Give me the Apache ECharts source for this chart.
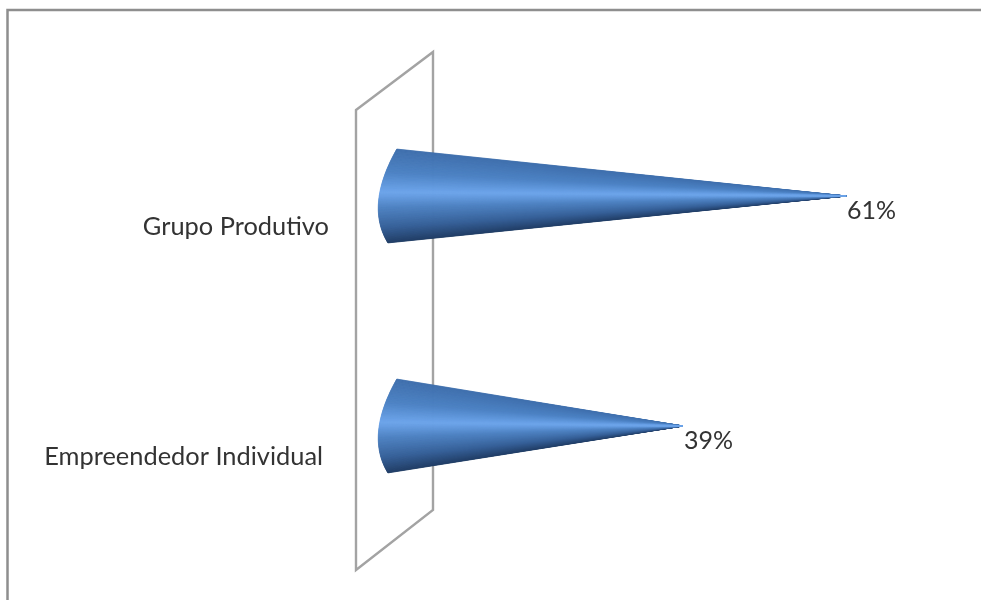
<!DOCTYPE html>
<html>
<head>
<meta charset="utf-8">
<style>html,body{margin:0;padding:0;background:#fff}#chart{width:981px;height:600px}</style>
<script src="https://cdn.jsdelivr.net/npm/echarts@6/dist/echarts.min.js"></script>
</head>
<body>
<div id="chart"></div>
<script>
const categories = ['Empreendedor Individual', 'Grupo Produtivo'];
const shares = [39, 61];

// Shading across the cone, from its upper edge to its lower edge
const shadeStops = [
  [0.00, [62, 110, 172]],
  [0.22, [76, 130, 196]],
  [0.41, [108, 164, 234]],
  [0.57, [78, 130, 194]],
  [0.80, [54, 96, 152]],
  [1.00, [32, 60, 100]]
];

function shadeAt(t) {
  for (let i = 1; i < shadeStops.length; i++) {
    const [t1, c1] = shadeStops[i];
    const [t0, c0] = shadeStops[i - 1];
    if (t <= t1) {
      const k = (t - t0) / (t1 - t0);
      const c = c0.map((v, j) => Math.round(v + (c1[j] - v) * k));
      return `rgb(${c.join(',')})`;
    }
  }
  return 'rgb(32,60,100)';
}

// One cone: a fan of slim facets running from the curved base to the tip
function renderCone(params, api) {
  const tip = api.coord([api.value(0), api.value(1)]);
  const base = api.coord([0, api.value(1)]);
  const band = api.size([0, 1])[1];
  const r = band * 0.204;
  const p0 = [base[0] + r * 0.06, base[1] - r];
  const pc = [base[0] - r * 0.62, base[1] + r * 0.2];
  const p2 = [base[0] - r * 0.13, base[1] + r];
  const steps = 120;
  const at = t => {
    const u = 1 - t;
    return [
      u * u * p0[0] + 2 * u * t * pc[0] + t * t * p2[0],
      u * u * p0[1] + 2 * u * t * pc[1] + t * t * p2[1]
    ];
  };
  // Painted from both edges inward so the highlight stays on top at the tip
  const order = [];
  const lit = Math.round(steps * 0.41);
  for (let i = 0; i < lit; i++) order.push(i);
  for (let i = steps - 1; i >= lit; i--) order.push(i);
  const children = order.map(i => {
    const color = shadeAt((i + 0.5) / steps);
    return {
      type: 'polygon',
      shape: { points: [at(i / steps), at((i + 1) / steps), tip] },
      style: { fill: color, stroke: color, lineWidth: 0.8, lineJoin: 'round' },
      silent: true
    };
  });
  children.push({
    type: 'text',
    style: {
      x: tip[0] + 1,
      y: tip[1] + 15,
      text: shares[params.dataIndex] + '%',
      fill: '#333333',
      font: '25px Lato',
      verticalAlign: 'middle',
      align: 'left'
    }
  });
  return { type: 'group', children };
}

const chart = echarts.init(document.getElementById('chart'), null, { renderer: 'canvas' });
chart.setOption({
  animation: false,
  backgroundColor: '#ffffff',
  grid: { left: 394, top: 81, width: 578, height: 460 },
  xAxis: { type: 'value', min: 0, max: 78, show: false },
  yAxis: {
    type: 'category',
    data: categories,
    axisLine: { show: false },
    axisTick: { show: false },
    splitLine: { show: false },
    axisLabel: {
      margin: 65,
      color: '#333333',
      fontFamily: 'Lato',
      fontSize: 25.4,
      padding: [62, 0, 0, 0],
      formatter: (v) => v === categories[0] ? `{low|${v}}` : `{high|${v}}`,
      rich: {
        low: { fontFamily: 'Lato', fontSize: 25.4, color: '#333333', padding: [0, 6, 0, 0] },
        high: { fontFamily: 'Lato', fontSize: 25.4, color: '#333333' }
      }
    }
  },
  graphic: [
    {
      type: 'rect',
      z: 0,
      shape: { x: 7.5, y: 10, width: 1000, height: 640 },
      style: { fill: 'none', stroke: '#8e8e8e', lineWidth: 2.5 }
    },
    {
      type: 'polygon',
      z: 0,
      shape: { points: [[356, 110], [433, 52], [433, 510], [356, 570]] },
      style: { fill: 'none', stroke: '#a3a3a3', lineWidth: 2.4 }
    }
  ],
  series: [{
    type: 'custom',
    z: 5,
    coordinateSystem: 'cartesian2d',
    encode: { x: 0, y: 1 },
    data: shares.map((v, i) => [v, i]),
    renderItem: renderCone,
    clip: false
  }]
});
</script>
</body>
</html>
